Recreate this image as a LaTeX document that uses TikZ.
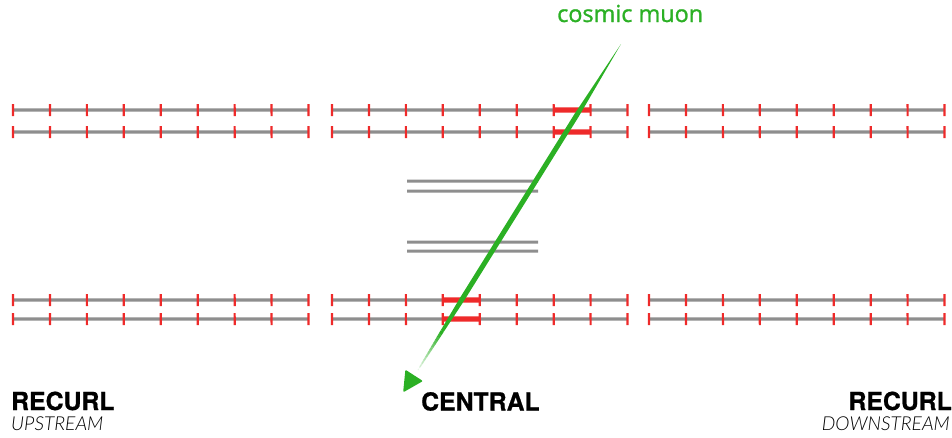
\documentclass[tikz,border=0pt]{standalone}
\usepackage{fontspec}
\setmainfont{TeX Gyre Heros}[BoldFeatures={FakeBold=0.8}]
\newfontfamily\muonfont{Open Sans}[FakeBold=1.2]
\newfontfamily\sublabelfont{Lato Light}[ItalicFont={Lato Light Italic}]
\usetikzlibrary{calc}
\definecolor{wiregray}{HTML}{8E8E8E}
\definecolor{tickred}{HTML}{EE2A2A}
\definecolor{muongreen}{HTML}{2BB024}
\tikzset{
  wire/.style={fill=wiregray},
  tickmark/.style={fill=tickred},
  hit/.style={fill=tickred},
  mainlabel/.style={inner sep=0pt,font=\bfseries\fontsize{24.8}{28}\selectfont},
  sublabel/.style={inner sep=0pt,font=\sublabelfont\itshape\fontsize{19.2}{21}\selectfont},
  muonlabel/.style={inner sep=0pt,text=muongreen,font=\muonfont\fontsize{23.4}{24}\selectfont}
}
% slightly skewed bar: left, top, right, bottom
\newcommand\softbar[5]{\path[#1] ({#2},{#3}) -- ({#4},{#3+0.02}) -- ({#4+0.02},{#5}) -- ({#2+0.02},{#5+0.02}) -- cycle;}
\begin{document}
\begin{tikzpicture}[x=1pt,y=-1pt]
\useasboundingbox (0,0) rectangle (952,437);
% layers
\foreach \xs in {13,332,649}{
  \foreach \yy in {110,132,300,319}{
    \softbar{wire}{\xs}{\yy-1.6}{\xs+295.5}{\yy+1.6}
    \foreach \k in {0,...,8}{
      \softbar{tickmark}{\xs+\k*36.94-1.1}{\yy-6}{\xs+\k*36.94+1.1}{\yy+6}
    }
  }
}
% inner layers
\foreach \yy in {181,191,242,251}{
  \softbar{wire}{407}{\yy-1.5}{538}{\yy+1.5}
}
% hit strips
\foreach \yy/\xa in {110/553.6,132/553.6,300/442.8,319/442.8}{
  \softbar{hit}{\xa}{\yy-2.7}{\xa+36.94}{\yy+2.7}
}
% muon
\coordinate (muonTop) at (621,44);
\coordinate (muonEnd) at (418,370);
\fill[muongreen]
  (muonTop)
  -- ($(muonTop)!.22!(muonEnd)!2.5pt!90:(muonEnd)$)
  -- ($(muonTop)!.78!(muonEnd)!2.5pt!90:(muonEnd)$)
  -- ($(muonTop)!.88!(muonEnd)!1.7pt!90:(muonEnd)$)
  -- ($(muonTop)!.88!(muonEnd)!1.7pt!-90:(muonEnd)$)
  -- ($(muonTop)!.78!(muonEnd)!2.5pt!-90:(muonEnd)$)
  -- ($(muonTop)!.22!(muonEnd)!2.5pt!-90:(muonEnd)$)
  -- cycle;
\foreach \t [evaluate=\t as \pct using {100-(\t-.88)*100/.12*0.95}, evaluate=\t as \wd using {1.7-(\t-.88)*1.2/.12}] in {.88,.89,...,.99}{
  \fill[muongreen!\pct!white]
    ($(muonTop)!\t!(muonEnd)!\wd pt!90:(muonEnd)$)
    -- ($(muonTop)!\t+.0105!(muonEnd)!\wd pt!90:(muonEnd)$)
    -- ($(muonTop)!\t+.0105!(muonEnd)!\wd pt!-90:(muonEnd)$)
    -- ($(muonTop)!\t!(muonEnd)!\wd pt!-90:(muonEnd)$) -- cycle;
}
\coordinate (headA) at (406,371);
\coordinate (headB) at (404,391);
\coordinate (headC) at (421.5,381);
\filldraw[muongreen,line width=1.5pt,line join=round] (headA) -- (headB) -- (headC) -- cycle;
% labels
\node[muonlabel,anchor=base west] (muonText) at (557,22) {cosmic muon};
\node[mainlabel,anchor=base west] (recurlLeft) at (11,410) {RECURL};
\node[sublabel,anchor=base west] (upstream) at (11,430) {UPSTREAM};
\node[mainlabel,anchor=base west] (central) at (421,410.5) {CENTRAL};
\node[mainlabel,anchor=base east] (recurlRight) at (952,410) {RECURL};
\node[sublabel,anchor=base east] (downstream) at (950,430) {DOWNSTREAM};
\end{tikzpicture}
\end{document}
